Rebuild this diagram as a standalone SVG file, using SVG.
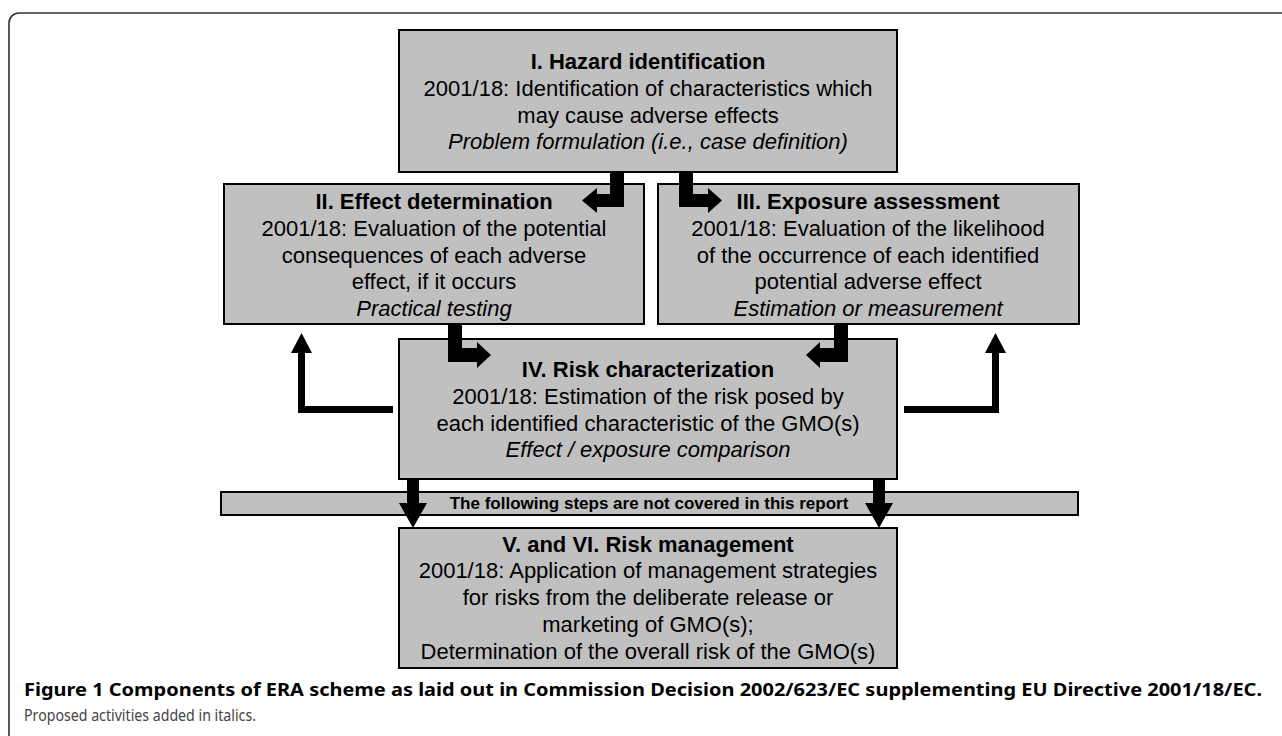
<svg xmlns="http://www.w3.org/2000/svg" width="1282" height="736" viewBox="0 0 1282 736">
<style>
.box{fill:#c0c0c0;stroke:#000;stroke-width:2}
.t{font-family:"Liberation Sans",Arial,sans-serif;font-size:22px;fill:#000;text-anchor:middle}
.b{font-weight:bold}
.i{font-style:italic}
.ban{font-family:"Liberation Sans",Arial,sans-serif;font-size:17px;font-weight:bold;fill:#000;text-anchor:middle}
.arr{fill:#000}
.fb{fill:none;stroke:#000;stroke-width:7}
.cap{font-family:"Noto Sans","Open Sans",sans-serif}
</style>
<rect width="1282" height="736" fill="#fff"/>
<path d="M9 745 V23 A10 10 0 0 1 19 13 H1290" fill="none" stroke="#333" stroke-width="1.6"/>

<g id="banner">
<rect class="box" x="221" y="492" width="857" height="23"/>
<text class="ban" x="649" y="509">The following steps are not covered in this report</text>
</g>

<g id="n1">
<rect class="box" x="399" y="30" width="498" height="142"/>
<text class="t b" x="648" y="69">I. Hazard identification</text>
<text class="t" x="648" y="96">2001/18: Identification of characteristics which</text>
<text class="t" x="648" y="123">may cause adverse effects</text>
<text class="t i" x="648" y="149">Problem formulation (i.e., case definition)</text>
</g>

<g id="n2">
<rect class="box" x="224" y="184" width="420" height="140"/>
<text class="t b" x="434" y="209">II. Effect determination</text>
<text class="t" x="434" y="236">2001/18: Evaluation of the potential</text>
<text class="t" x="434" y="263">consequences of each adverse</text>
<text class="t" x="434" y="289">effect, if it occurs</text>
<text class="t i" x="434" y="316">Practical testing</text>
</g>

<g id="n3">
<rect class="box" x="658" y="184" width="421" height="140"/>
<text class="t b" x="868" y="209">III. Exposure assessment</text>
<text class="t" x="868" y="236">2001/18: Evaluation of the likelihood</text>
<text class="t" x="868" y="263">of the occurrence of each identified</text>
<text class="t" x="868" y="289">potential adverse effect</text>
<text class="t i" x="868" y="316">Estimation or measurement</text>
</g>

<g id="n4">
<rect class="box" x="399" y="339" width="498" height="140"/>
<text class="t b" x="648" y="377">IV. Risk characterization</text>
<text class="t" x="648" y="404">2001/18: Estimation of the risk posed by</text>
<text class="t" x="648" y="431">each identified characteristic of the GMO(s)</text>
<text class="t i" x="648" y="457">Effect / exposure comparison</text>
</g>

<g id="n5">
<rect class="box" x="399" y="528" width="498" height="140"/>
<text class="t b" x="648" y="552">V. and VI. Risk management</text>
<text class="t" x="648" y="578">2001/18: Application of management strategies</text>
<text class="t" x="648" y="605">for risks from the deliberate release or</text>
<text class="t" x="648" y="632">marketing of GMO(s);</text>
<text class="t" x="648" y="659">Determination of the overall risk of the GMO(s)</text>
</g>

<g id="connectors">
<polygon class="arr" points="610,172 624,172 624,207 597,207 597,213 582,200.5 597,188 597,194 610,194"/>
<polygon class="arr" points="679,172 693,172 693,194 708,194 708,188 722,200.5 708,213 708,207 679,207"/>
<polygon class="arr" points="448,324 462,324 462,348 477,348 477,342 491,355 477,368 477,362 448,362"/>
<polygon class="arr" points="848,324 834,324 834,348 820,348 820,342 806,355 820,368 820,362 848,362"/>
<polyline class="fb" points="393,409.5 301.5,409.5 301.5,352"/>
<polygon class="arr" points="291,353 312,353 301.5,333"/>
<polyline class="fb" points="904,409.5 995.5,409.5 995.5,352"/>
<polygon class="arr" points="985,353 1006,353 995.5,333"/>
<polygon class="arr" points="407,479 419,479 419,503 427,503 413,528 399,503 407,503"/>
<polygon class="arr" points="873,479 885,479 885,503 893,503 879,528 865,503 873,503"/>
</g>

<g id="caption">
<text class="cap" x="24" y="696" font-size="18" font-weight="bold" fill="#000" textLength="1238" lengthAdjust="spacingAndGlyphs">Figure 1 Components of ERA scheme as laid out in Commission Decision 2002/623/EC supplementing EU Directive 2001/18/EC.</text>
<text class="cap" x="24" y="721" font-size="17" fill="#444" textLength="232" lengthAdjust="spacingAndGlyphs">Proposed activities added in italics.</text>
</g>
</svg>
